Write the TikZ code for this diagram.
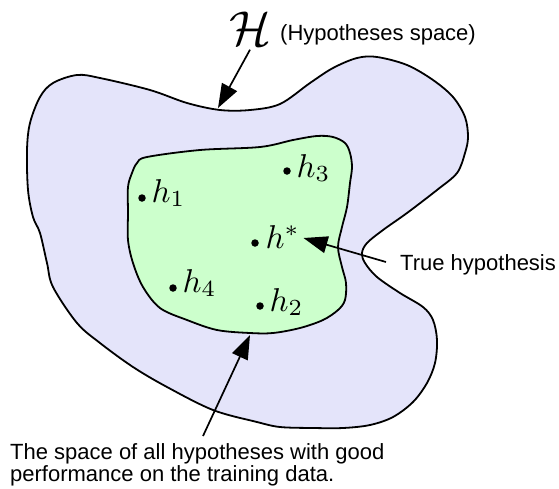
\documentclass[tikz,border=0pt]{standalone}
\usepackage{fontspec}
\setsansfont{Liberation Sans}
\usetikzlibrary{arrows.meta, positioning}
\definecolor{spaceblue}{RGB}{228,228,250}
\definecolor{goodgreen}{RGB}{204,255,204}

\begin{document}
\begin{tikzpicture}[x=1pt, y=-1pt,
    region/.style={draw=black, line width=1.8pt},
    pointer/.style={line width=1.7pt, -{Triangle[length=24pt, width=17pt]}},
    dot/.style={circle, fill=black, inner sep=0pt, minimum size=7.5pt},
    hlabel/.style={anchor=base west, inner sep=0pt, scale=3.3},
    note/.style={anchor=base west, inner sep=0pt, align=left, font=\sffamily\fontsize{22}{22}\selectfont}]
    \useasboundingbox (0,0) rectangle (559,488);
    % Regions:
    \draw[region, fill=spaceblue] plot[smooth cycle, tension=0.55] coordinates {
        (77,75) (100,78) (150,90) (187,103) (220,110) (250,110) (280,104) (310,83)
        (333,68) (357,58) (377,57) (407,65) (433,80) (453,97) (465,117) (468,137)
        (465,153) (457,173) (437,190) (407,213) (383,230) (367,243) (362,253)
        (365,263) (377,277) (400,293) (423,307) (433,320) (437,340) (435,363)
        (427,383) (413,402) (393,417) (370,425) (343,428) (313,428) (280,427)
        (257,422) (213,410) (167,387) (133,367) (100,343) (77,323) (53,287)
        (47,263) (40,233) (33,217) (28,190) (27,150) (30,123) (40,97) (53,83)};
    \draw[region, fill=goodgreen] plot[smooth cycle, tension=0.55] coordinates {
        (147,157) (200,150) (260,147) (293,140) (317,136) (333,137) (345,143)
        (350,153) (352,167) (350,183) (347,207) (342,227) (338,247) (342,267)
        (346,283) (345,300) (338,310) (323,320) (300,328) (273,333) (250,333)
        (217,330) (187,320) (160,308) (143,287) (133,263) (128,240) (128,213)
        (128,187) (132,173) (137,163)};
    % Hypotheses:
    \node[dot] (h1) at (142,198) {};
    \node[dot] (h3) at (287,171) {};
    \node[dot] (hs) at (255,243) {};
    \node[dot] (h4) at (173,288) {};
    \node[dot] (h2) at (260,306) {};
    \node[hlabel] (h1lab) at ([xshift=9pt, yshift=-4pt]h1.center) {$h_1$};
    \node[hlabel] (h3lab) at ([xshift=9pt, yshift=-6pt]h3.center) {$h_3$};
    \node[hlabel] (hslab) at ([xshift=10pt, yshift=-5pt]hs.center) {$h^*$};
    \node[hlabel] (h4lab) at ([xshift=9pt, yshift=-4pt]h4.center) {$h_4$};
    \node[hlabel] (h2lab) at ([xshift=9pt, yshift=-5pt]h2.center) {$h_2$};
    % Labels and pointers:
    \node[scale=4.9, inner sep=0pt] (space) at (250,29) {$\mathcal{H}$};
    \node[note] (spacetxt) at (280,40) {(Hypotheses space)};
    \node[note] (truetxt) at (400,270) {True hypothesis};
    \node[note] (goodtxt) at (10,481) {The space of all hypotheses with good\\performance on the training data.};
    \coordinate (outertop) at (218,108);
    \coordinate (innerbot) at (250,335);
    \coordinate (goodtail) at (203,436);
    \draw[pointer] ([yshift=-3pt]space.south) -- (outertop);
    \draw[pointer] ([xshift=-14pt, yshift=8pt]truetxt.base west) -- ([xshift=3pt, yshift=10pt]hslab.base east);
    \draw[pointer] (goodtail) -- (innerbot);
\end{tikzpicture}
\end{document}
